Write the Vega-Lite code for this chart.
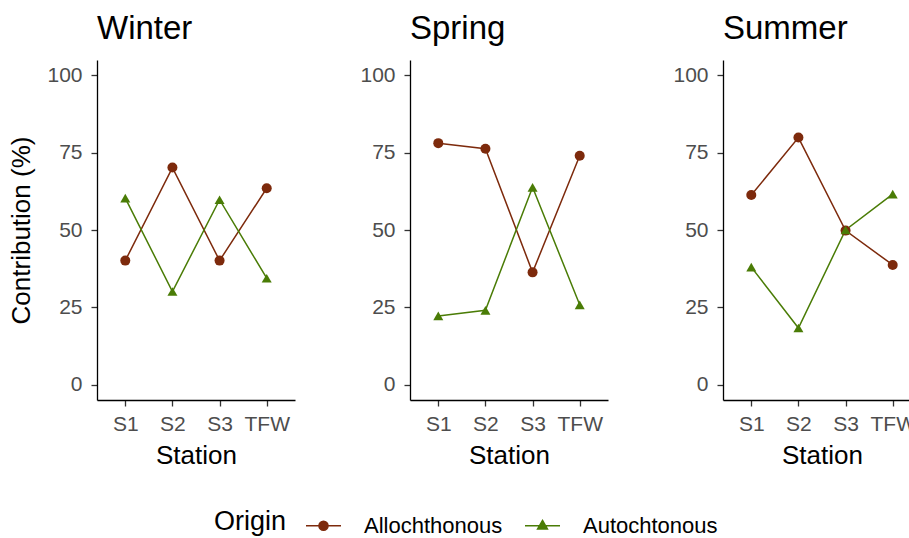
{
  "$schema": "https://vega.github.io/schema/vega-lite/v6.json",
  "background": "white",
  "padding": {"left": 8, "top": 13, "right": 0, "bottom": 0},
  "data": {"values": [
    {"season": "Winter", "station": "S1", "origin": "Allochthonous", "value": 40.1},
    {"season": "Winter", "station": "S2", "origin": "Allochthonous", "value": 70.2},
    {"season": "Winter", "station": "S3", "origin": "Allochthonous", "value": 40.1},
    {"season": "Winter", "station": "TFW", "origin": "Allochthonous", "value": 63.5},
    {"season": "Winter", "station": "S1", "origin": "Autochtonous", "value": 60.3},
    {"season": "Winter", "station": "S2", "origin": "Autochtonous", "value": 30.1},
    {"season": "Winter", "station": "S3", "origin": "Autochtonous", "value": 59.8},
    {"season": "Winter", "station": "TFW", "origin": "Autochtonous", "value": 34.4},
    {"season": "Spring", "station": "S1", "origin": "Allochthonous", "value": 78.1},
    {"season": "Spring", "station": "S2", "origin": "Allochthonous", "value": 76.3},
    {"season": "Spring", "station": "S3", "origin": "Allochthonous", "value": 36.3},
    {"season": "Spring", "station": "TFW", "origin": "Allochthonous", "value": 74.0},
    {"season": "Spring", "station": "S1", "origin": "Autochtonous", "value": 22.2},
    {"season": "Spring", "station": "S2", "origin": "Autochtonous", "value": 24.0},
    {"season": "Spring", "station": "S3", "origin": "Autochtonous", "value": 63.8},
    {"season": "Spring", "station": "TFW", "origin": "Autochtonous", "value": 25.8},
    {"season": "Summer", "station": "S1", "origin": "Allochthonous", "value": 61.3},
    {"season": "Summer", "station": "S2", "origin": "Allochthonous", "value": 79.9},
    {"season": "Summer", "station": "S3", "origin": "Allochthonous", "value": 49.8},
    {"season": "Summer", "station": "TFW", "origin": "Allochthonous", "value": 38.7},
    {"season": "Summer", "station": "S1", "origin": "Autochtonous", "value": 38.0},
    {"season": "Summer", "station": "S2", "origin": "Autochtonous", "value": 18.3},
    {"season": "Summer", "station": "S3", "origin": "Autochtonous", "value": 50.0},
    {"season": "Summer", "station": "TFW", "origin": "Autochtonous", "value": 61.6}
  ]},
  "spacing": 64,
  "hconcat": [
    {
      "title": {"text": "Winter"},
      "transform": [{"filter": "datum.season === 'Winter'"}],
      "width": 198, "height": 340,
      "encoding": {
        "x": {"field": "station", "type": "nominal", "scale": {"type": "point", "padding": 0.6, "domain": ["S1", "S2", "S3", "TFW"]}, "axis": {"title": "Station"}},
        "y": {"field": "value", "type": "quantitative", "scale": {"domain": [-5, 105], "nice": false, "zero": false}, "axis": {"values": [0, 25, 50, 75, 100], "title": "Contribution (%)"}},
        "color": {"field": "origin", "type": "nominal", "title": "Origin", "scale": {"domain": ["Allochthonous", "Autochtonous"], "range": ["#7d2a0c", "#4a7c06"]},
          "legend": {"encode": {"symbols": {"update": {
            "shape": {"signal": "datum.label === 'Allochthonous' ? 'M-1,0H1M0.26,0A0.26,0.26,0,1,1,-0.26,0A0.26,0.26,0,1,1,0.26,0Z' : 'M-1,0H1M0,-0.3L0.28,0.18L-0.28,0.18Z'"},
            "stroke": {"signal": "datum.label === 'Allochthonous' ? '#7d2a0c' : '#4a7c06'"},
            "strokeWidth": {"value": 1.5}
          }}}}}
      },
      "layer": [
        {"mark": {"type": "line", "strokeWidth": 1.5}},
        {"transform": [{"filter": "datum.origin === 'Allochthonous'"}], "mark": {"type": "point", "shape": "circle", "filled": true, "size": 100, "opacity": 1}},
        {"transform": [{"filter": "datum.origin === 'Autochtonous'"}], "mark": {"type": "point", "shape": "triangle-up", "filled": true, "size": 100, "opacity": 1}}
      ]
    },
    {
      "title": {"text": "Spring"},
      "transform": [{"filter": "datum.season === 'Spring'"}],
      "width": 198, "height": 340,
      "encoding": {
        "x": {"field": "station", "type": "nominal", "scale": {"type": "point", "padding": 0.6, "domain": ["S1", "S2", "S3", "TFW"]}, "axis": {"title": "Station"}},
        "y": {"field": "value", "type": "quantitative", "scale": {"domain": [-5, 105], "nice": false, "zero": false}, "axis": {"values": [0, 25, 50, 75, 100], "title": null}},
        "color": {"field": "origin", "type": "nominal", "title": "Origin", "scale": {"domain": ["Allochthonous", "Autochtonous"], "range": ["#7d2a0c", "#4a7c06"]},
          "legend": {"encode": {"symbols": {"update": {
            "shape": {"signal": "datum.label === 'Allochthonous' ? 'M-1,0H1M0.26,0A0.26,0.26,0,1,1,-0.26,0A0.26,0.26,0,1,1,0.26,0Z' : 'M-1,0H1M0,-0.3L0.28,0.18L-0.28,0.18Z'"},
            "stroke": {"signal": "datum.label === 'Allochthonous' ? '#7d2a0c' : '#4a7c06'"},
            "strokeWidth": {"value": 1.5}
          }}}}}
      },
      "layer": [
        {"mark": {"type": "line", "strokeWidth": 1.5}},
        {"transform": [{"filter": "datum.origin === 'Allochthonous'"}], "mark": {"type": "point", "shape": "circle", "filled": true, "size": 100, "opacity": 1}},
        {"transform": [{"filter": "datum.origin === 'Autochtonous'"}], "mark": {"type": "point", "shape": "triangle-up", "filled": true, "size": 100, "opacity": 1}}
      ]
    },
    {
      "title": {"text": "Summer"},
      "transform": [{"filter": "datum.season === 'Summer'"}],
      "width": 198, "height": 340,
      "encoding": {
        "x": {"field": "station", "type": "nominal", "scale": {"type": "point", "padding": 0.6, "domain": ["S1", "S2", "S3", "TFW"]}, "axis": {"title": "Station"}},
        "y": {"field": "value", "type": "quantitative", "scale": {"domain": [-5, 105], "nice": false, "zero": false}, "axis": {"values": [0, 25, 50, 75, 100], "title": null}},
        "color": {"field": "origin", "type": "nominal", "title": "Origin", "scale": {"domain": ["Allochthonous", "Autochtonous"], "range": ["#7d2a0c", "#4a7c06"]},
          "legend": {"encode": {"symbols": {"update": {
            "shape": {"signal": "datum.label === 'Allochthonous' ? 'M-1,0H1M0.26,0A0.26,0.26,0,1,1,-0.26,0A0.26,0.26,0,1,1,0.26,0Z' : 'M-1,0H1M0,-0.3L0.28,0.18L-0.28,0.18Z'"},
            "stroke": {"signal": "datum.label === 'Allochthonous' ? '#7d2a0c' : '#4a7c06'"},
            "strokeWidth": {"value": 1.5}
          }}}}}
      },
      "layer": [
        {"mark": {"type": "line", "strokeWidth": 1.5}},
        {"transform": [{"filter": "datum.origin === 'Allochthonous'"}], "mark": {"type": "point", "shape": "circle", "filled": true, "size": 100, "opacity": 1}},
        {"transform": [{"filter": "datum.origin === 'Autochtonous'"}], "mark": {"type": "point", "shape": "triangle-up", "filled": true, "size": 100, "opacity": 1}}
      ]
    }
  ],
  "config": {
    "view": {"stroke": null},
    "font": "Liberation Sans",
    "title": {"anchor": "start", "frame": "group", "fontSize": 33, "font": "Liberation Sans", "fontWeight": "normal", "color": "black", "offset": 14},
    "axis": {
      "grid": false,
      "domainColor": "black",
      "domainWidth": 1.3,
      "tickColor": "#333333",
      "tickWidth": 1.3,
      "tickSize": 6,
      "labelFont": "Liberation Sans",
      "labelFontSize": 21,
      "labelColor": "#4d4d4d",
      "labelPadding": 9,
      "titleFont": "Liberation Sans",
      "titleFontSize": 26,
      "titleFontWeight": "normal",
      "titleColor": "black"
    },
    "axisX": {"labelAngle": 0, "labelPadding": 7, "titlePadding": 8},
    "axisY": {"titlePadding": 12},
    "legend": {
      "orient": "none",
      "legendX": 117,
      "legendY": 447,
      "direction": "horizontal",
      "titleOrient": "left",
      "titleAnchor": "middle",
      "titleFont": "Liberation Sans",
      "titleFontSize": 27,
      "titleFontWeight": "normal",
      "titleColor": "black",
      "titleBaseline": "middle",
      "titlePadding": 18,
      "labelFont": "Liberation Sans",
      "labelFontSize": 22,
      "labelColor": "black",
      "labelOffset": 22,
      "columnPadding": 19,
      "symbolSize": 1225,
      "symbolStrokeWidth": 1.5
    }
  }
}
